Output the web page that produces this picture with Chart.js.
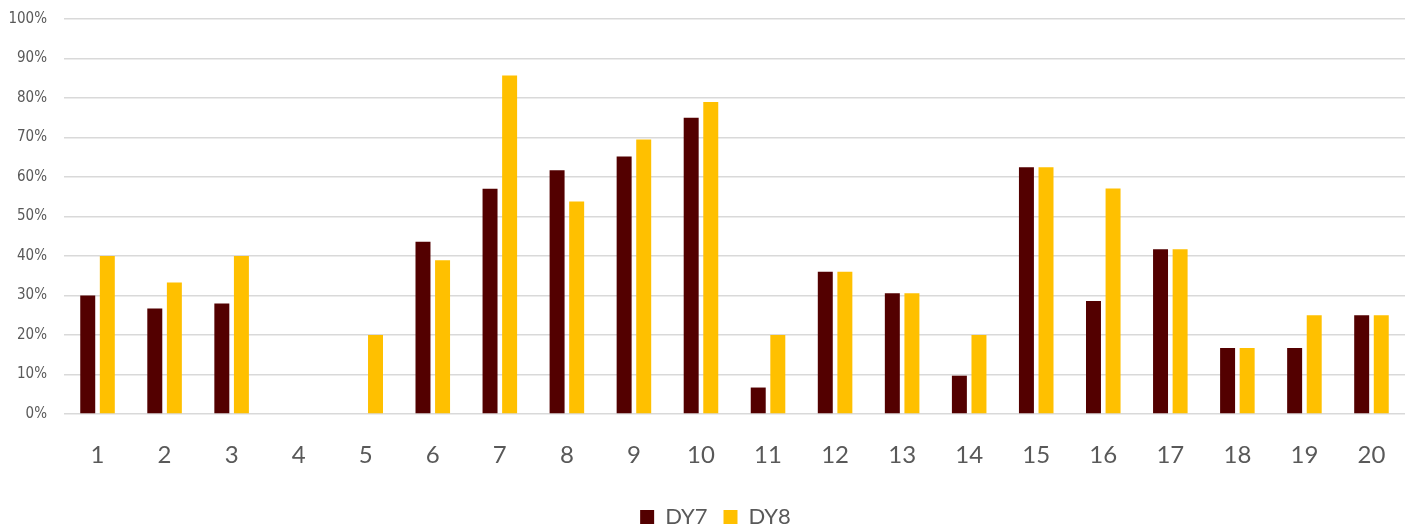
<!DOCTYPE html>
<html>
<head>
<meta charset="utf-8">
<script src="https://cdn.jsdelivr.net/npm/chart.js@4/dist/chart.umd.min.js"></script>
<style>
html,body{margin:0;padding:0;background:#fff;}
#wrap{width:1410px;height:531px;}
</style>
</head>
<body>
<div id="wrap"><canvas id="c" width="1410" height="531"></canvas></div>
<script>
const categories = ["1","2","3","4","5","6","7","8","9","10","11","12","13","14","15","16","17","18","19","20"];
const dy7 = [30, 26.7, 28, 0, 0, 43.6, 57, 61.7, 65.2, 75, 6.7, 36, 30.6, 9.7, 62.5, 28.6, 41.7, 16.7, 16.7, 25];
const dy8 = [40, 33.3, 40, 0, 20, 38.9, 85.7, 53.8, 69.5, 79, 20, 36, 30.6, 20, 62.5, 57.1, 41.7, 16.7, 25, 25];
const yTicks = [0,10,20,30,40,50,60,70,80,90,100];

Chart.defaults.font.family = "'Gill Sans','Lato','Open Sans',sans-serif";
Chart.defaults.color = '#595959';

const legendTweak = {
  id: 'legendTweak',
  afterInit(chart) {
    const lg = chart.legend;
    if (!lg) return;
    const origFit = lg.fit;
    lg.fit = function() { origFit.call(this); this.height = 41; };
    const origDraw = lg.draw;
    lg.draw = function() {
      const ctx = this.ctx;
      ctx.save(); ctx.translate(13, 0);
      origDraw.call(this);
      ctx.restore();
    };
  }
};

new Chart(document.getElementById('c'), {
  type: 'bar',
  data: {
    labels: categories,
    datasets: [
      {label: 'DY7', data: dy7, backgroundColor: '#530000', borderWidth: 0},
      {label: 'DY8', data: dy8, backgroundColor: '#FFC000', borderWidth: 0}
    ]
  },
  plugins: [legendTweak],
  options: {
    responsive: false,
    animation: false,
    devicePixelRatio: 1,
    layout: {padding: {top: 19, right: 5, left: 0, bottom: 0}},
    datasets: {bar: {categoryPercentage: 0.584, barPercentage: 0.765}},
    plugins: {
      legend: {
        position: 'bottom',
        labels: {
          boxWidth: 14, boxHeight: 14, padding: 16,
          font: {size: 22},
          color: '#595959'
        }
      },
      tooltip: {enabled: false}
    },
    scales: {
      x: {
        afterFit: (s) => { s.height = 76; s.paddingLeft = 0; s.paddingRight = 0; },
        grid: {display: false, drawTicks: false},
        border: {display: false},
        ticks: {font: {size: 24}, padding: 27, color: '#595959'}
      },
      y: {
        min: 0, max: 100,
        afterBuildTicks: (s) => { s.ticks = yTicks.map(v => ({value: v})); },
        afterFit: (s) => { s.width = 64; s.paddingTop = 0; s.paddingBottom = 0; },
        grid: {color: '#d9d9d9', lineWidth: 1.5, drawTicks: false},
        border: {display: false},
        ticks: {
          padding: 17,
          font: {size: 15, family: "'Liberation Sans Narrow','DejaVu Sans Condensed','Lato',sans-serif"},
          color: '#595959',
          callback: (v) => v + '%'
        }
      }
    }
  }
});
</script>
</body>
</html>
